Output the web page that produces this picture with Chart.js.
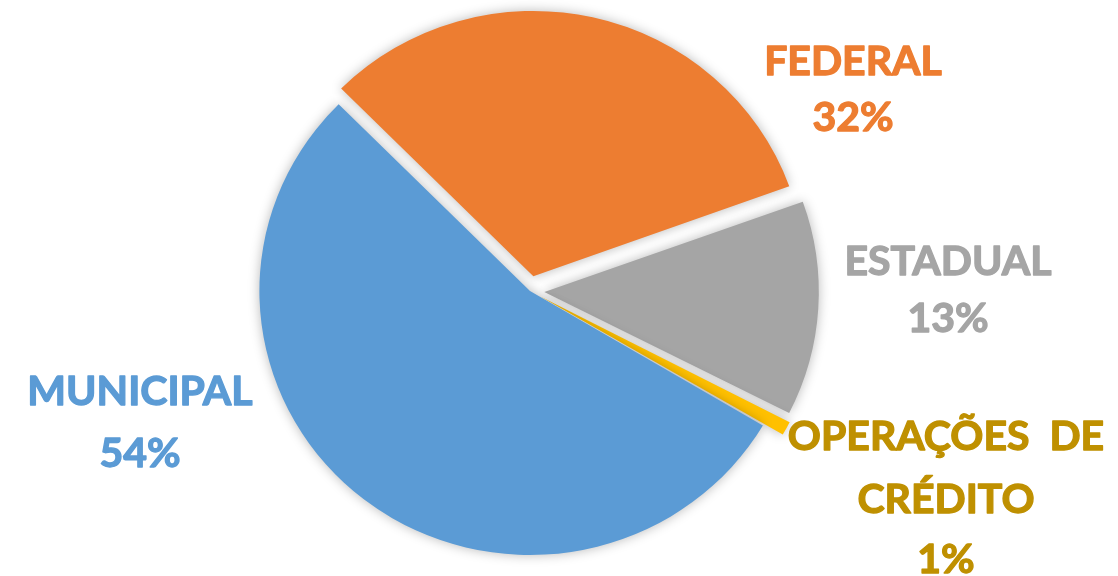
<!DOCTYPE html>
<html>
<head>
<meta charset="utf-8">
<script src="https://cdn.jsdelivr.net/npm/chart.js@4"></script>
<style>
    html, body { margin: 0; padding: 0; background: #fff; }
    #wrap { width: 1118px; height: 576px; position: relative; }
</style>
</head>
<body>
<div id="wrap"><canvas id="pieChart"></canvas></div>
<script>
// Data
const categories = ['FEDERAL', 'ESTADUAL', 'OPERAÇÕES DE CRÉDITO', 'MUNICIPAL'];
const shares = [32, 13, 1, 54];
const sliceColors = ['#ED7D31', '#A5A5A5', '#FFC000', '#5B9BD5'];
const labelColors = ['#ED7D31', '#A5A5A5', '#BF9000', '#5B9BD5'];

// Label placement (hand placed like in the original), one entry per category
const labelLayout = [
    { lines: ['FEDERAL'], x: 853, y: [75, 131] },
    { lines: ['ESTADUAL'], x: 948, y: [275, 332] },
    { lines: ['OPERAÇÕES  DE', 'CRÉDITO'], x: 946, y: [450, 513, 573] },
    { lines: ['MUNICIPAL'], x: 140, y: [405, 467] }
];

// soft grey glow round each slice, pie a touch wider than tall like the source
const sliceShadow = {
    id: 'sliceShadow',
    beforeDatasetsDraw(chart) {
        const ctx = chart.ctx;
        const cx = (chart.chartArea.left + chart.chartArea.right) / 2;
        ctx.save();
        ctx.translate(cx, 0);
        ctx.scale(1.025, 1);
        ctx.translate(-cx, 0);
        ctx.shadowColor = 'rgba(0, 0, 0, 0.28)';
        ctx.shadowBlur = 12;
    },
    afterDatasetsDraw(chart) {
        chart.ctx.restore();
    }
};

const outsideLabels = {
    id: 'outsideLabels',
    afterDraw(chart) {
        const ctx = chart.ctx;
        ctx.save();
        ctx.font = 'bold 41px Lato, "Open Sans", sans-serif';
        ctx.textAlign = 'center';
        ctx.textBaseline = 'alphabetic';
        ctx.lineWidth = 1.3;
        ctx.lineJoin = 'round';
        labelLayout.forEach((lab, i) => {
            ctx.fillStyle = labelColors[i];
            ctx.strokeStyle = labelColors[i];
            const lines = [...lab.lines, shares[i] + '%'];
            lines.forEach((txt, j) => {
                ctx.fillText(txt, lab.x, lab.y[j]);
                ctx.strokeText(txt, lab.x, lab.y[j]);
            });
        });
        ctx.restore();
    }
};

new Chart(document.getElementById('pieChart'), {
    type: 'pie',
    data: {
        labels: categories,
        datasets: [{
            data: shares,
            backgroundColor: sliceColors,
            borderWidth: 0,
            offset: [60, 56, 44, 0]
        }]
    },
    options: {
        responsive: true,
        maintainAspectRatio: false,
        animation: false,
        rotation: -45,
        radius: 264,
        layout: { padding: { left: 0, right: 58, top: 6, bottom: 0 } },
        plugins: {
            legend: { display: false },
            tooltip: { enabled: false }
        }
    },
    plugins: [sliceShadow, outsideLabels]
});
</script>
</body>
</html>
